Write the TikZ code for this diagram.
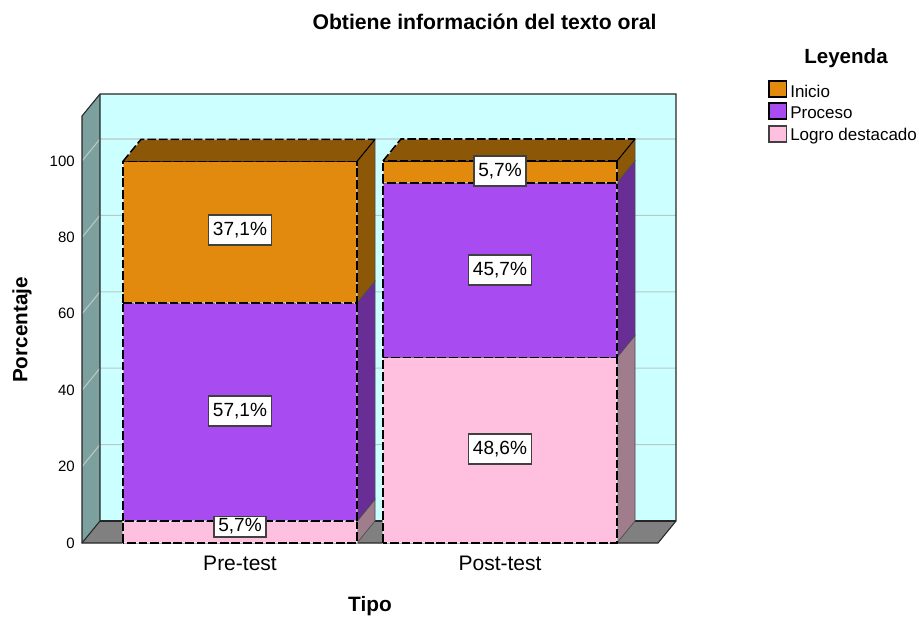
\documentclass[tikz,border=0pt]{standalone}
\usepackage{fontspec}
\setmainfont{Liberation Sans}
\definecolor{wallback}{RGB}{204,255,255}
\definecolor{wallside}{RGB}{124,160,158}
\definecolor{floorc}{RGB}{128,128,128}
\definecolor{gridc}{RGB}{185,200,200}
\definecolor{orangeF}{RGB}{225,138,14}
\definecolor{orangeS}{RGB}{140,88,8}
\definecolor{purpleF}{RGB}{168,75,240}
\definecolor{purpleS}{RGB}{105,45,150}
\definecolor{pinkF}{RGB}{255,192,224}
\definecolor{pinkS}{RGB}{160,125,140}
\newcommand\barseg[5]{%
  \pgfmathsetmacro\yb{543-3.82*#2}%
  \pgfmathsetmacro\yt{543-3.82*#3}%
  \filldraw[#5,draw=black!70,line width=0.5] (#1+234,\yb) -- (#1+252,\yb-22) -- (#1+252,\yt-22) -- (#1+234,\yt) -- cycle;
  \fill[#4] (#1,\yb) rectangle (#1+234,\yt);
  \draw[gapline] (#1,\yb) rectangle (#1+234,\yt);
  \draw[dashedge] (#1,\yb) rectangle (#1+234,\yt);
}
\newcommand\bartop[3]{%
  \pgfmathsetmacro\yt{543-3.82*#2}%
  \fill[#3] (#1,\yt) -- (#1+18,\yt-22) -- (#1+252,\yt-22) -- (#1+234,\yt) -- cycle;
  \draw[gapline] (#1,\yt) -- (#1+18,\yt-22) -- (#1+252,\yt-22);
  \draw[dashedge] (#1,\yt) -- (#1+18,\yt-22) -- (#1+252,\yt-22);
  \draw[black,line width=0.8] (#1+252,\yt-22) -- (#1+234,\yt);
  \draw[dashedge] (#1+234,\yt) -- (#1,\yt);
}
\begin{document}
\begin{tikzpicture}[x=0.75pt,y=-0.75pt,
  dashedge/.style={black,line width=1.2pt,dash pattern=on 6.5pt off 2.2pt},
  gapline/.style={white,opacity=0.45,line width=1.2pt},
  wallline/.style={black!85,line width=0.8pt},
  gridline/.style={gridc,line width=0.8pt},
  vallabel/.style={draw=black!75,line width=1pt,fill=white,inner xsep=3.2pt,inner ysep=0pt,minimum height=22.5pt,font=\fontsize{14.3}{16}\selectfont},
  ticklabel/.style={anchor=east,inner sep=0pt,font=\fontsize{11.25}{13}\selectfont},
  catlabel/.style={font=\fontsize{15.75}{18}\selectfont},
  legbox/.style={draw=black,line width=1pt,minimum width=13pt,minimum height=12pt,inner sep=0pt},
  legtext/.style={anchor=west,inner sep=0pt,font=\fontsize{12.75}{15}\selectfont}]
\useasboundingbox (0,0) rectangle (919,617);
% walls and floor
\fill[wallside] (82,116) -- (100,94) -- (100,521) -- (82,543) -- cycle;
\fill[wallback] (100,94) rectangle (676,521);
\fill[floorc] (82,543) -- (100,521) -- (676,521) -- (658,543) -- cycle;
\foreach \v in {20,40,60,80,100}{
  \pgfmathsetmacro\yy{543-3.82*\v}
  \draw[gridline] (82,\yy) -- (100,\yy-22) -- (676,\yy-22);
}
\draw[wallline] (82,543) -- (82,116) -- (100,94) -- (676,94) -- (676,521) -- (658,543) -- cycle;
\draw[wallline] (100,94) -- (100,521) -- (82,543);
\draw[wallline] (100,521) -- (676,521);
% tick labels
\foreach \v in {0,20,40,60,80,100}{
  \pgfmathsetmacro\yy{543-3.82*\v}
  \node[ticklabel] (t\v) at (75,\yy) {\v};
}
% Pre-test bar
\barseg{123}{0}{5.7}{pinkF}{pinkS}
\barseg{123}{5.7}{62.8}{purpleF}{purpleS}
\barseg{123}{62.8}{99.9}{orangeF}{orangeS}
\bartop{123}{99.9}{orangeS}
% Post-test bar
\barseg{383}{0}{48.6}{pinkF}{pinkS}
\barseg{383}{48.6}{94.3}{purpleF}{purpleS}
\barseg{383}{94.3}{100}{orangeF}{orangeS}
\bartop{383}{100}{orangeS}
% value labels
\node[vallabel] (l1) at (240,230) {37,1\%};
\node[vallabel] (l2) at (240,411) {57,1\%};
\node[vallabel,minimum height=15.5pt] (l3) at (240,526.5) {5,7\%};
\node[vallabel] (l4) at (500,171) {5,7\%};
\node[vallabel] (l5) at (500,270) {45,7\%};
\node[vallabel] (l6) at (500,449) {48,6\%};
% axis labels
\node[catlabel] (c1) at (240,563) {Pre-test};
\node[catlabel] (c2) at (500,563) {Post-test};
\node[font=\bfseries\fontsize{15.6}{18}\selectfont] (xt) at (370,606) {Tipo};
\node[font=\bfseries\fontsize{15.5}{18}\selectfont,rotate=90] (yt) at (22,330) {Porcentaje};
\node[font=\bfseries\fontsize{15.9}{18}\selectfont] (title) at (484.5,22) {Obtiene información del texto oral};
% legend
\node[font=\bfseries\fontsize{15.4}{18}\selectfont] (leg) at (846,58) {Leyenda};
\node[legbox,fill=orangeF] (k1) at (777.5,89) {};
\node[legbox,fill=purpleF] (k2) at (777.5,111) {};
\node[legbox,fill=pinkF,draw=black!75] (k3) at (777.5,134) {};
\node[legtext] (k1t) at (790,91) {Inicio};
\node[legtext] (k2t) at (790,113) {Proceso};
\node[legtext] (k3t) at (790,136) {Logro destacado};
\end{tikzpicture}
\end{document}
